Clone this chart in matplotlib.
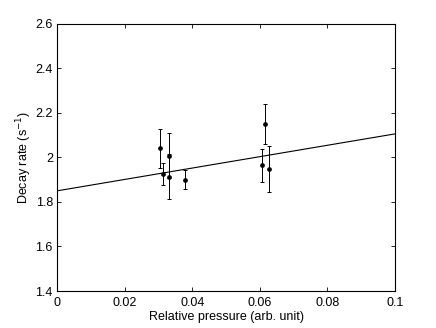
import matplotlib
matplotlib.use("Agg")
import matplotlib.pyplot as plt
import numpy as np

pressure = [0.0304, 0.0313, 0.0330, 0.0331, 0.0378, 0.0607, 0.0616, 0.0628]
decay = [2.041, 1.927, 2.008, 1.914, 1.900, 1.965, 2.149, 1.948]
err = [0.088, 0.05, 0.10, 0.10, 0.043, 0.074, 0.09, 0.103]
fit_x = [0.0, 0.1]
fit_y = [1.85, 2.106]

plt.rcParams['font.family'] = ['Liberation Sans', 'DejaVu Sans']
fig = plt.figure(figsize=(4.36, 3.28), dpi=100)
ax = fig.add_axes([0.1307, 0.1128, 0.906 - 0.1307, 0.927 - 0.1128])

ax.plot(fit_x, fit_y, color='black', lw=0.8)
ax.errorbar(pressure, decay, yerr=err, fmt='o', color='black', ms=2.4,
            elinewidth=0.7, capsize=1.2, capthick=0.7)

ax.set_xlim(0, 0.1)
ax.set_ylim(1.4, 2.6)
ax.set_xticks([0, 0.02, 0.04, 0.06, 0.08, 0.1])
ax.set_xticklabels(['0', '0.02', '0.04', '0.06', '0.08', '0.1'])
ax.set_yticks([1.4, 1.6, 1.8, 2.0, 2.2, 2.4, 2.6])
ax.set_yticklabels(['1.4', '1.6', '1.8', '2', '2.2', '2.4', '2.6'])
ax.tick_params(direction='in', top=True, right=True, labelsize=9, length=3, width=0.6)
ax.tick_params(axis='x', pad=4)
ax.tick_params(axis='y', pad=3)
for s in ax.spines.values():
    s.set_linewidth(0.8)
ax.set_xlabel('Relative pressure (arb. unit)', fontsize=9, labelpad=2)
ax.set_ylabel('Decay rate (s$^{-1}$)', fontsize=9, labelpad=1)

fig.savefig('out.png', dpi=100)
